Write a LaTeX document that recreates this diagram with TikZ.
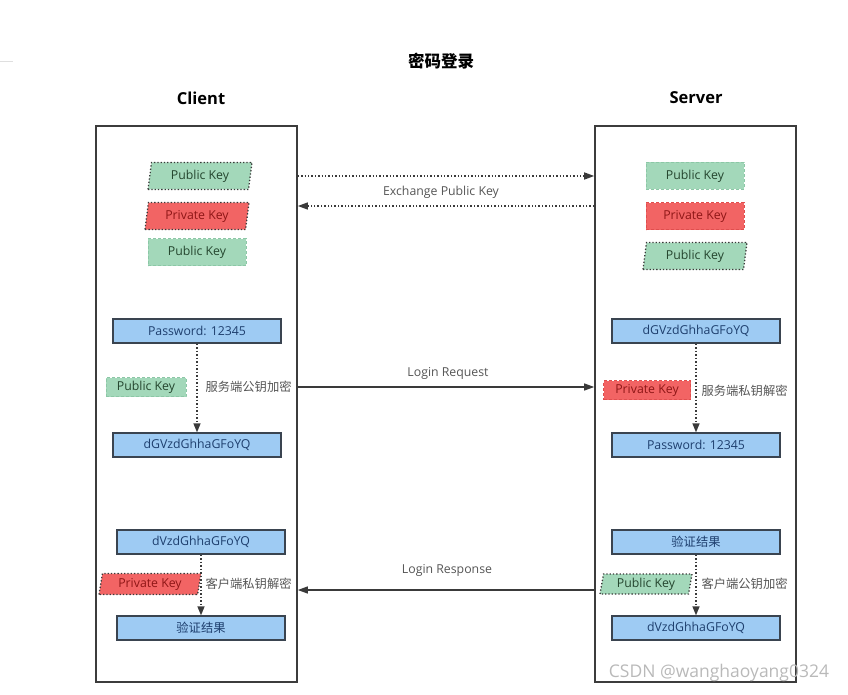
\documentclass[tikz,border=0pt]{standalone}
\usepackage{fontspec}
\setmainfont{Open Sans}
\newfontfamily\cjk{Noto Sans CJK SC}
\usetikzlibrary{arrows.meta,shapes.geometric}

\definecolor{pubfill}{HTML}{A3D8BA}
\definecolor{publine}{HTML}{8CC7A6}
\definecolor{pubtext}{HTML}{24452E}
\definecolor{privfill}{HTML}{F26464}
\definecolor{privline}{HTML}{E04E4E}
\definecolor{privtext}{HTML}{8E1616}
\definecolor{boxfill}{HTML}{9ECBF3}
\definecolor{boxline}{HTML}{3A4450}
\definecolor{boxtext}{HTML}{1E3F6E}
\definecolor{framegray}{HTML}{3C3C3C}
\definecolor{dotgray}{HTML}{3A3A3A}
\definecolor{lblgray}{HTML}{555555}

\tikzset{
  frame/.style={draw=framegray, line width=1.6pt, minimum width=201pt, minimum height=556pt, inner sep=0pt},
  keyfont/.style={font=\fontsize{12.3}{14}\selectfont},
  pub/.style={fill=pubfill, text=pubtext, keyfont},
  priv/.style={fill=privfill, text=privtext, keyfont},
  pubsoft/.style={pub, draw=publine, densely dashed, line width=0.8pt},
  privsoft/.style={priv, draw=privline, densely dashed, line width=0.8pt},
  slanted/.style={trapezium, trapezium left angle=74, trapezium right angle=106,
    trapezium stretches body, draw=dotgray, line width=1.3pt, dotted},
  bigkey/.style={minimum width=98pt, minimum height=27pt, inner sep=0pt},
  smallkey/.style={minimum width=82pt, minimum height=19pt, inner sep=0pt},
  datbox/.style={draw=boxline, fill=boxfill, text=boxtext, line width=1.3pt,
    minimum width=168pt, minimum height=24pt, inner sep=0pt, keyfont},
  flow/.style={draw=dotgray, line width=1.5pt, dotted, -{Triangle[length=9pt,width=7pt]}},
  xchg/.style={draw=dotgray, line width=1.4pt, dotted, -{Triangle[length=10pt,width=7pt]}},
  msg/.style={draw=dotgray, line width=1.3pt, -{Triangle[length=10pt,width=7pt]}},
  lbl/.style={text=lblgray, keyfont},
  cnlbl/.style={text=lblgray, font=\cjk\fontsize{12.3}{14}\selectfont}
}

\begin{document}
\begin{tikzpicture}[x=1pt,y=-1pt]
\useasboundingbox (0,0) rectangle (848,695);
\draw[gray!25] (0,61) -- (13,61);

% titles
\node (title) at (441,61) {\cjk\bfseries\fontsize{16.5}{18}\selectfont 密码登录};
\node (clienthead) at (201,98) {\bfseries\fontsize{16.5}{18}\selectfont Client};
\node (serverhead) at (696,98) {\bfseries\fontsize{16.5}{18}\selectfont Server};

% the two sides
\node[frame] (clientframe) at (196.5,404) {};
\node[frame] (serverframe) at (695.5,404) {};

% keys
\node[slanted, pub, minimum width=104pt, minimum height=27pt, inner sep=0pt] (pubC) at (200,176) {Public Key};
\node[slanted, priv, minimum width=104pt, minimum height=27pt, inner sep=0pt] (privC) at (197,216) {Private Key};
\node[pubsoft, bigkey] (spubC) at (197,252) {Public Key};
\node[pubsoft, bigkey] (pubS) at (695,176) {Public Key};
\node[privsoft, bigkey] (privS) at (695,216) {Private Key};
\node[slanted, pub, minimum width=104pt, minimum height=27pt, inner sep=0pt] (cpubS) at (695,256) {Public Key};

\coordinate (xback) at (0,206);
\draw[xchg] (clientframe.east |- pubC) -- (serverframe.west |- pubC);
\draw[xchg] (serverframe.west |- xback) -- (clientframe.east |- xback);
\node[lbl] (xchglbl) at (441,192) {Exchange Public Key};

% login request
\node[datbox] (pwC) at (197,331) {Password: 12345};
\node[datbox] (encC) at (197,445) {dGVzdGhhaGFoYQ};
\node[pubsoft, smallkey, minimum width=80pt] (keyC) at (146,387) {Public Key};
\node[cnlbl, anchor=west] (encL) at (202,387) {服务端公钥加密};
\draw[flow] (pwC) -- (encC);

\node[datbox] (encS) at (696,331) {dGVzdGhhaGFoYQ};
\node[datbox] (pwS) at (696,445) {Password: 12345};
\node[privsoft, smallkey, minimum width=87pt] (keyS) at (647,390) {Private Key};
\node[cnlbl, anchor=west] (decL) at (698,391) {服务端私钥解密};
\draw[flow] (encS) -- (pwS);

\draw[msg] (clientframe.east |- encL) -- (serverframe.west |- encL);
\node[lbl] (reqlbl) at (448,373) {Login Request};

% login response
\node[datbox] (resC) at (201,542) {dVzdGhhaGFoYQ};
\node[datbox] (okC) at (201,628) {\cjk 验证结果};
\node[slanted, priv, minimum width=102pt, minimum height=21pt, inner sep=0pt] (keyC2) at (150,584) {Private Key};
\node[cnlbl, anchor=west] (decC) at (202,584) {客户端私钥解密};
\draw[flow] (resC) -- (okC);

\node[datbox] (okS) at (696,542) {\cjk 验证结果};
\node[datbox] (resS) at (696,628) {dVzdGhhaGFoYQ};
\node[slanted, pub, minimum width=92pt, minimum height=20pt, inner sep=0pt] (keyS2) at (646,584) {Public Key};
\node[cnlbl, anchor=west] (encS2) at (698,584) {客户端公钥加密};
\draw[flow] (okS) -- (resS);

\coordinate (respy) at (0,590);
\draw[msg] (serverframe.west |- respy) -- (clientframe.east |- respy);
\node[lbl] (reslbl) at (447,570) {Login Response};

% watermark
\node[text=gray!55, font=\fontsize{17.5}{19}\selectfont] (mark) at (719,673) {CSDN @wanghaoyang0324};
\end{tikzpicture}
\end{document}
